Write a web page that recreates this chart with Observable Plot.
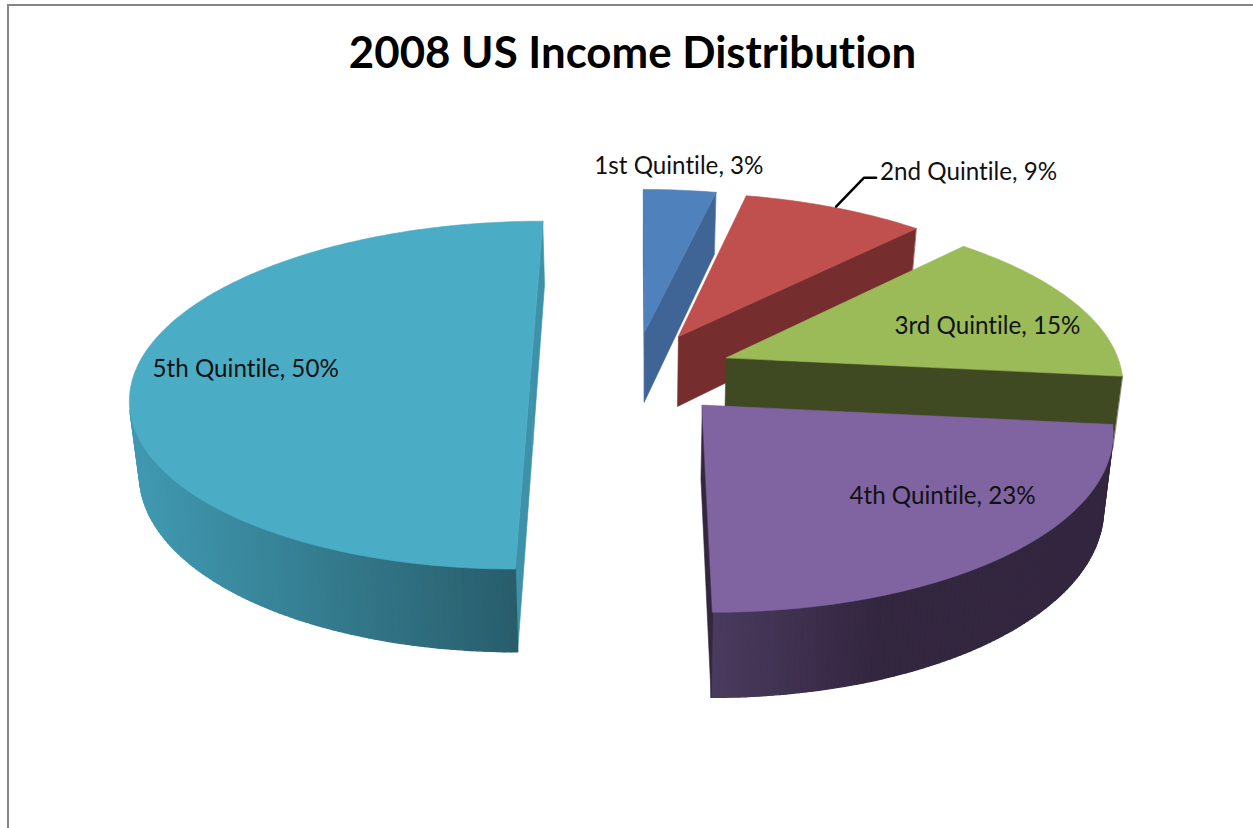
<!DOCTYPE html>
<html>
<head>
<meta charset="utf-8">
<script src="https://cdn.jsdelivr.net/npm/d3@7"></script>
<script src="https://cdn.jsdelivr.net/npm/@observablehq/plot@0.6"></script>
<style>
  html, body { margin: 0; padding: 0; background: #fff; overflow: hidden; }
  #frame { position: absolute; left: 7px; top: 4px; width: 1246px; height: 824px; box-sizing: border-box;
           border-top: 2.5px solid #868686; border-left: 2.5px solid #868686; }
  #chart { position: absolute; left: 0; top: 0; }
  #chart svg { background: transparent !important; display: block; }
  #chart svg text { font-variant-ligatures: none; font-feature-settings: "liga" 0; }
</style>
</head>
<body>
<div id="frame"></div>
<div id="chart"></div>
<script>
// ---- data ----
const chartTitle = "2008 US Income Distribution";
const quintiles = ["1st Quintile", "2nd Quintile", "3rd Quintile", "4th Quintile", "5th Quintile"];
const shares = [3.4, 8.6, 14.7, 23.3, 50];

// ---- styles ----
const topColors = ["#4F81BD", "#C0504D", "#9BBB59", "#8064A2", "#4BACC6"];
const wallColors = ["#3F6597", "#752E2D", "#3F4A22", "#33263F", "#3D92A9"];
const gradients = [null, null, null,
  {from: "#4A3B5F", to: "#33263F", x0: 712, x1: 880},
  {from: "#4098B0", to: "#285D6B", x0: 140, x1: 518}];
const explodes = [0.245, 0.245, 0.25, 0.25, 0.262];
const labelLayout = [
  {f: 1.1, dx: -4, dy: -11},
  {f: 1.1, dx: 119.5, dy: -24},
  {f: 0.6, dx: 49, dy: 2},
  {f: 0.6, dx: 63, dy: 6},
  {f: 0.73, dx: 4, dy: -3}
];

// ---- perspective view of a pie lying on the ground ----
const view = {cx: 634, cy: 372, a: 396, b: 171, depth: 72, p: 0.13, taper: 0.02};
function project(X, Y, Z) {
  const w = 1 + view.p * Y;
  return [view.cx + (view.a * X / w) * (1 - view.taper * Z), view.cy - view.b * Y / w + view.depth * Z / w];
}
const total = d3.sum(shares);
const cumulative = d3.cumsum(shares);
const slices = quintiles.map((name, i) => {
  const start = (cumulative[i] - shares[i]) / total * 2 * Math.PI;
  const end = cumulative[i] / total * 2 * Math.PI;
  const mid = (start + end) / 2;
  return {i, name, share: shares[i], start, end, mid, ox: explodes[i] * Math.sin(mid), oy: explodes[i] * Math.cos(mid)};
});
const ring = (s, angle, f = 1) => [s.ox + f * Math.sin(angle), s.oy + f * Math.cos(angle)];
function outline(s) {
  const n = Math.max(4, Math.round((s.end - s.start) / 0.015));
  const pts = [[s.ox, s.oy]];
  for (let k = 0; k <= n; ++k) pts.push(ring(s, s.start + (s.end - s.start) * k / n));
  return pts;
}
function signedArea(q) {
  let sum = 0;
  q.forEach((p, k) => { const r = q[(k + 1) % q.length]; sum += p[0] * r[1] - r[0] * p[1]; });
  return sum;
}
function wallColor(s, isArc, x) {
  const g = gradients[s.i];
  if (!g || !isArc) return wallColors[s.i];
  return d3.interpolateRgb(g.from, g.to)(Math.min(1, Math.max(0, (x - g.x0) / (g.x1 - g.x0))));
}
const polygon = (ring2d, color, width) => ({type: "Polygon", coordinates: [[...ring2d, ring2d[0]]], color, width});

const faces = [];
for (const s of slices) {
  const pts = outline(s);
  pts.forEach((p, k) => {
    const q = pts[(k + 1) % pts.length];
    const quad = [project(p[0], p[1], 0), project(q[0], q[1], 0), project(q[0], q[1], 1), project(p[0], p[1], 1)];
    if (signedArea(quad) < 0) {
      const isArc = k > 0 && k < pts.length - 1;
      faces.push(polygon(quad, wallColor(s, isArc, (quad[0][0] + quad[1][0]) / 2), isArc ? 1.4 : 0.6));
    }
  });
  faces.push(polygon(pts.map(p => project(p[0], p[1], 0)), topColors[s.i], 0.6));
}

const labels = slices.map(s => {
  const l = labelLayout[s.i];
  const [X, Y] = ring(s, s.mid, l.f);
  const [x, y] = project(X, Y, 0);
  return {x: x + l.dx, y: y + l.dy, text: `${s.name}, ${d3.format(".0f")(s.share)}%`};
});

// leader of the second slice: from its rim to the left of its label
const rim = (() => { const [X, Y] = ring(slices[1], slices[1].mid); return project(X, Y, 0); })();
const leader = [
  {x: rim[0] + 1, y: rim[1] - 1},
  {x: rim[0] + 29, y: rim[1] - 30},
  {x: rim[0] + 41, y: rim[1] - 30}
];

const chart = Plot.plot({
  width: 1253,
  height: 828,
  margin: 0,
  projection: d3.geoIdentity(),
  color: {type: "identity"},
  style: {background: "transparent"},
  marks: [
    Plot.geo(faces, {fill: d => d.color, stroke: d => d.color, strokeWidth: d => d.width}),
    Plot.line(leader, {x: "x", y: "y", stroke: "#000", strokeWidth: 2.5}),
    Plot.text(labels, {x: "x", y: "y", text: "text", fontFamily: "Lato", fontSize: 24.2, fill: "#111", textAnchor: "middle", lineAnchor: "middle"}),
    Plot.text([chartTitle], {x: () => 632, y: () => 53, text: d => d, fontFamily: "Lato", fontWeight: 700, fontSize: 43.8, fill: "#000", textAnchor: "middle", lineAnchor: "middle"})
  ]
});
document.getElementById("chart").appendChild(chart);
</script>
</body>
</html>
